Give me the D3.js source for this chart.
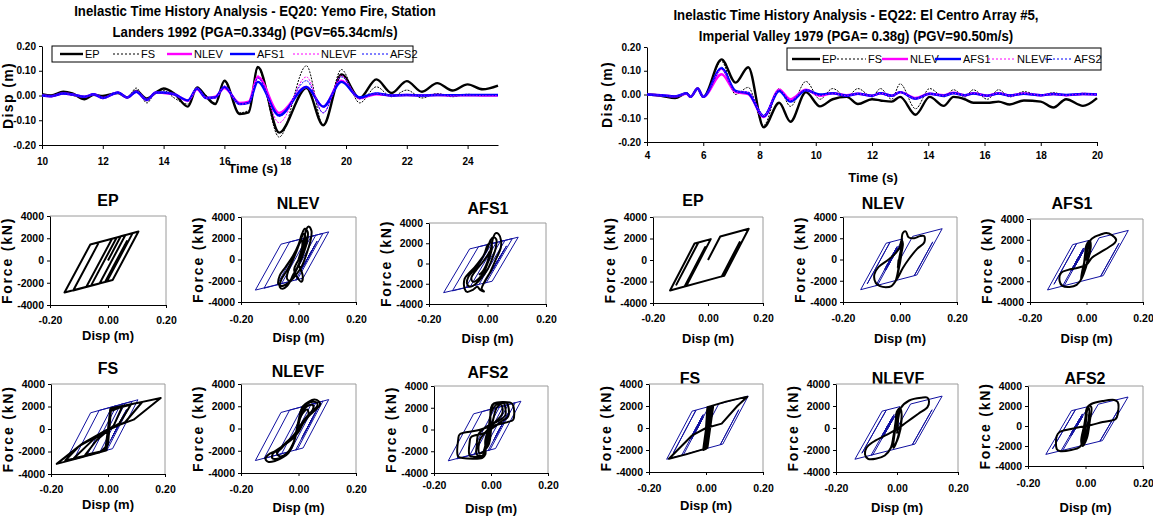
<!DOCTYPE html>
<html>
<head>
<meta charset="utf-8">
<script src="https://cdn.jsdelivr.net/npm/d3@7"></script>
<style>
  body { margin: 0; background: #fff; }
  svg { display: block; }
  text { font-family: 'Liberation Sans Narrow', 'Arial Narrow', 'Liberation Sans', Arial, sans-serif; }
  .wide text, text.wide { font-family: 'Liberation Sans', Arial, sans-serif; }
</style>
</head>
<body>
<svg id="fig" width="1153" height="518"></svg>
<script>
// ---------- series and tick definitions ----------
const seriesNames = ["EP", "FS", "NLEV", "AFS1", "NLEVF", "AFS2"];
const dispTicks = [-0.20, -0.10, 0.00, 0.10, 0.20];
const eq20TimeTicks = [10, 12, 14, 16, 18, 20, 22, 24];
const eq22TimeTicks = [4, 6, 8, 10, 12, 14, 16, 18, 20];
const forceTicks = [-4000, -2000, 0, 2000, 4000];
const loopDispTicks = [-0.20, 0.00, 0.20];

// ---------- EQ20 Yemo Fire (Landers 1992) displacement histories (m) ----------
const eq20Time  = [10.0,10.3,10.7,11.0,11.4,11.7,12.0,12.5,12.8,13.1,13.45,13.75,14.0,14.35,14.8,15.1,15.4,15.7,16.0,16.5,16.8,17.1,17.8,18.7,19.25,19.85,20.45,21.0,21.5,22.0,22.5,23.0,23.5,24.0,24.5,25.0];
const eq20EP    = [0.005,0.000,0.015,0.008,-0.015,0.003,-0.002,0.010,-0.008,0.018,-0.012,0.012,0.028,0.008,-0.045,0.033,-0.005,-0.035,0.060,-0.075,-0.068,0.115,-0.150,0.030,-0.120,0.085,-0.010,0.065,0.010,0.058,0.015,0.050,0.020,0.045,0.025,0.040];
const eq20FS    = [0.000,-0.005,0.008,0.000,-0.008,0.005,-0.008,0.012,-0.010,0.030,-0.030,0.015,0.020,-0.010,-0.035,0.025,0.000,-0.030,0.055,-0.070,-0.060,0.110,-0.168,0.120,-0.120,0.105,-0.030,0.035,-0.005,0.022,-0.010,0.008,-0.005,0.005,0.000,0.003];
const eq20NLEV  = [0.000,-0.003,0.008,0.004,-0.005,0.005,-0.010,0.012,-0.008,0.015,-0.018,0.012,0.010,0.005,-0.020,0.025,-0.010,-0.005,0.030,-0.030,-0.025,0.075,-0.070,0.035,-0.045,0.060,-0.010,0.005,0.000,0.002,0.000,0.002,0.000,0.001,0.000,0.000];
const eq20AFS1  = [0.000,-0.003,0.008,0.004,-0.005,0.005,-0.010,0.012,-0.008,0.015,-0.018,0.012,0.012,0.005,-0.020,0.028,-0.010,-0.008,0.035,-0.035,-0.030,0.055,-0.080,0.035,-0.045,0.055,-0.008,0.008,0.000,0.002,0.000,0.002,0.001,0.002,0.002,0.002];
const eq20NLEVF = [0.000,-0.003,0.008,0.004,-0.005,0.005,-0.010,0.012,-0.008,0.018,-0.020,0.012,0.012,0.005,-0.025,0.030,-0.010,-0.010,0.038,-0.035,-0.030,0.080,-0.110,0.075,-0.070,0.080,-0.015,0.008,0.000,0.002,0.000,0.002,0.000,0.001,0.000,0.000];
const eq20AFS2  = [0.000,-0.003,0.008,0.004,-0.005,0.005,-0.010,0.012,-0.008,0.018,-0.020,0.012,0.012,0.005,-0.022,0.030,-0.010,-0.008,0.038,-0.035,-0.030,0.070,-0.085,0.060,-0.070,0.075,-0.012,0.010,0.000,0.003,0.000,0.002,0.001,0.002,0.002,0.002];

// ---------- EQ22 El Centro Array #5 (Imperial Valley 1979) displacement histories (m) ----------
const eq22Time  = [4.0,4.5,5.0,5.4,5.55,5.8,6.0,6.65,7.15,7.6,8.15,8.7,9.1,9.65,10.15,10.6,11.1,11.5,12.0,12.3,12.7,13.0,13.55,14.05,14.55,14.9,15.3,15.6,16.1,16.5,16.9,17.4,18.0,18.45,18.9,19.5,20.0];
const eq22EP    = [0,-0.005,-0.015,0.005,-0.01,0.025,-0.01,0.148,0.05,0.115,-0.138,-0.035,-0.115,0.01,-0.05,-0.02,-0.01,-0.04,-0.02,-0.025,-0.03,-0.01,-0.085,-0.01,-0.048,-0.01,-0.02,-0.035,-0.035,-0.03,-0.042,-0.025,-0.03,-0.055,-0.02,-0.048,-0.015];
const eq22FS    = [0,-0.003,-0.01,0.005,-0.01,0.025,-0.01,0.14,0.0,0.03,-0.13,0.025,-0.05,0.055,-0.02,0.025,-0.01,0.025,-0.01,0.025,-0.02,0.045,-0.06,0.025,-0.01,0.02,-0.01,0.02,-0.02,0.02,-0.01,0.012,-0.005,0.008,-0.005,0.005,0.0];
const eq22NLEV  = [0,-0.003,-0.008,0.003,-0.01,0.025,-0.01,0.085,0.01,0.002,-0.095,0.02,-0.02,0.02,-0.005,0.005,-0.003,0.003,-0.005,0.005,-0.005,0.01,-0.015,0.003,-0.003,0.008,-0.003,0.005,-0.005,0.005,-0.004,0.004,-0.003,0.002,-0.003,0.002,0];
const eq22AFS1  = [0,-0.003,-0.008,0.005,-0.01,0.025,-0.01,0.11,0.015,0.005,-0.092,0.015,-0.03,0.018,0.0,0.005,-0.005,0.003,-0.005,0.005,-0.005,0.01,-0.018,0.003,-0.005,0.005,-0.003,0.004,-0.005,0.004,-0.004,0.003,-0.003,0.002,-0.002,0.002,0];
const eq22NLEVF = [0,-0.003,-0.008,0.005,-0.01,0.025,-0.01,0.105,0.012,0.01,-0.09,0.02,-0.025,0.02,-0.005,0.005,-0.005,0.003,-0.005,0.005,-0.005,0.01,-0.018,0.003,-0.005,0.005,-0.003,0.005,-0.005,0.005,-0.004,0.004,-0.003,0.002,-0.003,0.002,0];
const eq22AFS2  = [0,-0.003,-0.008,0.005,-0.01,0.025,-0.01,0.115,0.012,0.01,-0.085,0.018,-0.028,0.02,-0.003,0.005,-0.005,0.003,-0.005,0.005,-0.005,0.01,-0.018,0.003,-0.005,0.005,-0.003,0.004,-0.005,0.004,-0.004,0.003,-0.003,0.002,-0.002,0.002,0];

// ---------- force-displacement loops, [disp (m), force (kN)] ----------
const loop20EP = [[0,0],[0.044,2180],[0.06,2285],[-0.029,-2065],[-0.075,-2390],[0.014,1960],[0.105,2600],[0.016,-1750],[-0.15,-2880],[-0.061,1440],[0.03,2075],[-0.059,-2280],[-0.12,-2705],[-0.031,1650],[0.085,2460],[-0.004,-1890],[-0.01,-1935],[0.065,1740],[0.01,-955],[0.058,1400],[0.015,-700],[0.05,1000],[0.02,-470],[0.045,760],[0.025,-220],[0.04,515]];
const loop20FS = [[0,0],[0.008,1800],[0.1,2300],[0.185,2750],[0.09,830],[0.0,0],[-0.09,-1300],[-0.18,-3100],[-0.09,-2500],[-0.005,-1850],[0.0,-500],[0.01,1850],[0.12,2400],[0.06,600],[0.0,-100],[-0.1,-1500],[-0.15,-2800],[-0.06,-2300],[-0.005,-1900],[0.008,1700],[0.08,2150],[0.04,500],[-0.05,-900],[-0.12,-2600],[-0.03,-2100],[0.0,-1400],[0.01,1600],[0.05,2000],[0.02,300],[-0.04,-1000],[-0.08,-2300],[-0.01,-1900],[0.005,900]];
const loop20NLEV = [[0,0],[0.01,900],[0.02,2000],[0.028,2900],[0.035,3100],[0.045,2700],[0.042,1800],[0.03,700],[0.012,-600],[-0.01,-1500],[-0.035,-2200],[-0.06,-2500],[-0.07,-2300],[-0.065,-1500],[-0.045,-700],[-0.02,300],[0.0,1400],[0.012,2400],[0.022,2900],[0.032,2600],[0.03,1700],[0.018,600],[0.0,-600],[-0.02,-1600],[-0.04,-2500],[-0.055,-2750],[-0.065,-2600],[-0.06,-1900],[-0.04,-1000],[-0.02,0],[-0.005,1000],[0.008,1900],[0.018,2400],[0.025,2100],[0.02,1200],[0.01,200],[-0.005,-800],[-0.02,-1500],[-0.03,-2000],[-0.04,-1800],[-0.035,-1000],[-0.02,-100],[-0.005,900],[0.005,1600],[0.012,1800],[0.012,1000],[0.0,0],[-0.015,-1000],[0.01,-2100],[0.015,-1600],[0.0,-500]];
const loop20AFS1 = [[0,0],[0.012,1500],[0.02,2600],[0.028,3000],[0.038,2900],[0.046,2300],[0.045,1500],[0.03,500],[0.01,-800],[-0.01,-1800],[-0.02,-2500],[-0.012,-2750],[-0.025,-2600],[-0.035,-2300],[-0.05,-2600],[-0.07,-2800],[-0.078,-2500],[-0.078,-1500],[-0.065,-1000],[-0.045,-400],[-0.02,500],[0.0,1500],[0.01,2300],[0.02,2600],[0.03,2400],[0.028,1500],[0.015,400],[0.0,-600],[-0.02,-1400],[-0.04,-2000],[-0.06,-2300],[-0.07,-2000],[-0.065,-1300],[-0.045,-600],[-0.025,200],[-0.01,1000],[0.0,1800],[0.012,2100],[0.015,1500],[0.005,400],[-0.01,-700],[-0.03,-1500],[-0.05,-1800],[-0.055,-1400],[-0.04,-700],[-0.02,0],[0.0,800],[0.008,1200],[0.0,200],[-0.02,-900],[-0.03,-1100]];
const loop20NLEVF = [[0,0],[0.005,1200],[0.015,2000],[0.035,2400],[0.055,2600],[0.07,2450],[0.075,2150],[0.06,1700],[0.035,1100],[0.015,400],[0.0,-300],[-0.02,-900],[-0.05,-1500],[-0.08,-2000],[-0.105,-2350],[-0.115,-2700],[-0.105,-3000],[-0.08,-2900],[-0.055,-2600],[-0.035,-2200],[-0.02,-1500],[-0.01,-500],[0.0,700],[0.01,1700],[0.03,2200],[0.05,2400],[0.065,2300],[0.065,2000],[0.045,1500],[0.02,800],[0.0,0],[-0.02,-700],[-0.045,-1300],[-0.07,-1900],[-0.09,-2300],[-0.09,-2700],[-0.07,-2700],[-0.045,-2400],[-0.025,-1800],[-0.012,-900],[0.0,500],[0.01,1500],[0.03,2000],[0.05,2100],[0.05,1700],[0.03,1100],[0.01,400],[-0.01,-400],[-0.035,-1100],[-0.06,-1800],[-0.075,-2200],[-0.065,-2500],[-0.04,-2200],[-0.02,-1400],[-0.005,-200],[0.01,1200],[0.03,1700],[0.035,1300],[0.015,500],[0.0,-200]];
const loop20AFS2 = [[0,0],[0.0,2000],[0.01,2400],[0.07,2450],[0.078,2200],[0.078,900],[0.06,700],[0.0,300],[-0.05,-100],[-0.11,-450],[-0.115,-900],[-0.115,-2500],[-0.1,-2620],[-0.03,-2600],[-0.02,-2300],[-0.02,-1000],[-0.005,500],[0.0,1800],[0.01,2350],[0.055,2450],[0.06,2200],[0.06,1200],[0.04,800],[-0.02,-300],[-0.07,-700],[-0.075,-1200],[-0.075,-2400],[-0.06,-2500],[-0.03,-2450],[-0.025,-2000],[-0.01,-300],[0.0,1500],[0.02,2300],[0.045,2400],[0.05,2000],[0.05,1300],[0.02,700],[-0.02,200],[-0.045,-500],[-0.05,-1500],[-0.05,-2300],[-0.03,-2400],[-0.02,-1800],[0.0,0],[0.02,2000],[0.035,2300],[0.04,1500],[0.0,300],[-0.04,-1000],[-0.04,-2200],[-0.01,-1500],[0.0,0]];

const loop22EP = [[0,0],[0.0445,2180],[0.148,2900],[0.059,-1460],[0.05,-1525],[0.115,1660],[0.05,-1525],[-0.138,-2840],[-0.049,1530],[-0.035,1630],[-0.115,-2290],[-0.035,1630],[0.01,1945],[-0.05,-995],[-0.02,475],[-0.01,965],[-0.04,-505],[-0.02,475],[-0.03,-15],[-0.01,965],[-0.079,-2430],[-0.085,-2470],[-0.01,1205],[-0.048,-657],[-0.01,1205],[-0.035,-20],[-0.03,225],[-0.055,-1000],[-0.02,715],[-0.048,-657],[-0.015,960]];
const loop22FS = [[0,0],[0.005,1900],[0.07,2400],[0.145,2850],[0.11,2000],[0.055,400],[0.0,0],[-0.05,-700],[-0.13,-2800],[-0.07,-2400],[-0.005,-1900],[0.015,1900],[0.02,1500],[0.0,-1900],[-0.01,-2000],[0.01,1800],[0.025,1950],[0.005,-1800],[0.012,1800],[-0.005,-1700],[0.015,1900],[0.0,-1400],[0.01,1600]];
const loop22NLEV = [[0,0],[0.005,1500],[0.01,2500],[0.02,2650],[0.03,2100],[0.05,2000],[0.07,2200],[0.085,2200],[0.085,1600],[0.06,1000],[0.03,0],[0.01,-800],[-0.01,-1800],[-0.03,-2500],[-0.05,-2600],[-0.07,-2500],[-0.085,-2200],[-0.09,-1400],[-0.075,-700],[-0.04,0],[-0.015,600],[0.0,1200],[0.005,1800],[0.01,1500],[0.0,0],[-0.01,-1500],[-0.015,-2000],[-0.005,-1000],[0.005,500],[0.008,1400],[0.0,500],[-0.008,-800],[-0.005,0]];
const loop22AFS1 = [[0,0],[0.005,1500],[0.012,1900],[0.03,2300],[0.05,2500],[0.07,2650],[0.09,2450],[0.105,2000],[0.1,1700],[0.08,1300],[0.05,800],[0.02,300],[0.0,-400],[-0.03,-700],[-0.065,-900],[-0.09,-1200],[-0.095,-2000],[-0.085,-2450],[-0.06,-2550],[-0.035,-2350],[-0.015,-1600],[-0.01,-600],[-0.005,600],[0.0,1500],[0.012,1900],[0.015,1300],[0.005,0],[-0.01,-1300],[-0.02,-1900],[-0.015,-1000],[-0.005,200],[0.005,1400],[0.01,1700],[0.008,600],[-0.005,-800],[-0.015,-1500],[-0.01,-500],[0.0,700]];
const loop22NLEVF = [[0,0],[0.005,1000],[0.012,1800],[0.04,2500],[0.08,2750],[0.1,2750],[0.105,2400],[0.1,1900],[0.07,1300],[0.03,500],[0.0,-100],[-0.04,-700],[-0.08,-1300],[-0.1,-1800],[-0.105,-2400],[-0.095,-2800],[-0.07,-2800],[-0.04,-2500],[-0.02,-1800],[-0.012,-800],[-0.005,500],[0.0,1500],[0.01,1800],[0.015,1200],[0.01,0],[-0.005,-1500],[-0.012,-1800],[-0.01,-600],[0.0,1000],[0.012,1700],[0.015,700],[0.005,-800],[-0.01,-1600],[-0.005,0],[0.005,1300],[0.0,-500]];
const loop22AFS2 = [[0,0],[0.005,1800],[0.02,2200],[0.06,2500],[0.1,2600],[0.112,2400],[0.112,1200],[0.105,700],[0.06,400],[0.02,100],[0.0,0],[-0.05,-300],[-0.09,-600],[-0.1,-1000],[-0.1,-2300],[-0.09,-2500],[-0.05,-2400],[-0.02,-2100],[-0.01,-1500],[0.0,0],[0.005,1500],[0.01,2000],[0.02,1900],[0.015,500],[0.005,-1200],[-0.01,-2000],[-0.015,-1500],[-0.005,0],[0.005,1500],[0.012,1800],[0.01,500],[0.0,-1000],[-0.01,-1800],[-0.005,-500],[0.005,1200]];

// ---------- drawing ----------
const svg = d3.select("#fig");
svg.append("rect").attr("width", 1153).attr("height", 518).attr("fill", "#fff");

const seriesStyle = {
  EP:    { color: "#000000", width: 2.4, dash: null },
  FS:    { color: "#000000", width: 1.0, dash: "2,1.2" },
  NLEV:  { color: "#ff00ff", width: 2.4, dash: null },
  AFS1:  { color: "#0000ff", width: 2.4, dash: null },
  NLEVF: { color: "#ff00ff", width: 1.0, dash: "2,1.2" },
  AFS2:  { color: "#0000ff", width: 1.0, dash: "2,1.2" }
};

function styleAxis(g, size, wide) {
  g.attr("font-family", null).attr("font-size", size).attr("font-weight", "bold");
  if (wide) g.classed("wide", true);
  g.selectAll("path.domain").attr("stroke", "#000").attr("stroke-width", 1);
  g.selectAll(".tick line").attr("stroke", "#000");
  g.selectAll(".tick text").attr("fill", "#000");
}

function drawHistory(cfg) {
  const g = svg.append("g");
  const x = d3.scaleLinear().domain(cfg.domain).range([cfg.x0, cfg.x1]);
  const y = d3.scaleLinear().domain([-0.2, 0.2]).range([cfg.yBot, cfg.yTop]);

  // two-line title, slightly condensed
  cfg.title.forEach((t, i) => {
    g.append("text").attr("transform", `translate(${cfg.titleX},${cfg.titleY[i]}) scale(0.88,1)`)
      .attr("text-anchor", "middle").attr("font-size", 15).attr("font-weight", "bold").text(t);
  });

  // axes
  const ax = g.append("g").attr("transform", `translate(0,${cfg.yBot})`)
    .call(d3.axisBottom(x).tickValues(cfg.ticks).tickSize(4).tickSizeOuter(0)
      .tickPadding(cfg.xPad).tickFormat(d => String(d)));
  styleAxis(ax, 10, true);
  const ay = g.append("g").attr("transform", `translate(${cfg.x0},0)`)
    .call(d3.axisLeft(y).tickValues(dispTicks).tickSize(3).tickSizeOuter(0)
      .tickPadding(3).tickFormat(d => d.toFixed(2)));
  styleAxis(ay, 10, true);

  g.append("text").attr("transform", `translate(${cfg.yLabelX},${(cfg.yTop + cfg.yBot) / 2}) rotate(-90)`)
    .attr("text-anchor", "middle").attr("font-size", 14).attr("font-weight", "bold")
    .attr("letter-spacing", 1.4).text("Disp (m)");
  g.append("text").attr("x", cfg.xLabel[0]).attr("y", cfg.xLabel[1])
    .attr("text-anchor", "middle").attr("font-size", 13).attr("font-weight", "bold").text("Time (s)");

  // series
  const line = d3.line().x(d => x(d[0])).y(d => y(d[1])).curve(d3.curveMonotoneX);
  seriesNames.forEach((name, i) => {
    const st = seriesStyle[name];
    const pts = cfg.time.map((t, k) => [t, cfg.values[i][k]]);
    g.append("path").datum(pts).attr("d", line)
      .attr("fill", "none").attr("stroke", st.color).attr("stroke-width", st.width)
      .attr("stroke-dasharray", st.dash).attr("stroke-linejoin", "round");
  });

  // legend
  const lg = g.append("g");
  lg.append("rect").attr("x", cfg.legend.x).attr("y", cfg.legend.y)
    .attr("width", cfg.legend.w).attr("height", cfg.legend.h)
    .attr("fill", "#fff").attr("stroke", "#000").attr("stroke-width", 1);
  const ly = cfg.legend.y + cfg.legend.h / 2;
  seriesNames.forEach((name, i) => {
    const st = seriesStyle[name];
    const [a, b] = cfg.legend.lines[i];
    lg.append("line").attr("x1", a).attr("x2", b).attr("y1", ly).attr("y2", ly)
      .attr("stroke", st.color).attr("stroke-width", st.width)
      .attr("stroke-dasharray", st.dash ? "2,2" : null);
    lg.append("text").attr("x", b + 2).attr("y", ly + 4).attr("font-size", 11).text(name);
  });
}

function drawLoop(p) {
  const g = svg.append("g");
  const x = d3.scaleLinear().domain([-0.2, 0.2]).range([p.x0, p.x1]);
  const y = d3.scaleLinear().domain([-4000, 4000]).range([p.yBot, p.yTop]);

  g.append("text").attr("x", p.title[0]).attr("y", p.title[1] + 6)
    .attr("text-anchor", "middle").attr("font-size", 16).attr("font-weight", "bold").text(p.name);

  // plot-area frame (grey top and right edges)
  g.append("path").attr("d", `M${p.x0},${p.yTop}H${p.x1}V${p.yBot}`)
    .attr("fill", "none").attr("stroke", "#9a9a9a").attr("stroke-width", 1);

  const lin = d3.line().x(d => x(d[0])).y(d => y(d[1]));
  if (p.ref) {
    g.append("path").datum(p.ref).attr("d", lin)
      .attr("fill", "none").attr("stroke", "#1010a0").attr("stroke-width", 1)
      .attr("stroke-linejoin", "round");
  }
  const curved = d3.line().x(d => x(d[0])).y(d => y(d[1]))
    .curve(p.smooth ? d3.curveCatmullRom.alpha(0.5) : d3.curveLinear);
  g.append("path").datum(p.data).attr("d", curved)
    .attr("fill", "none").attr("stroke", "#000").attr("stroke-width", 2)
    .attr("stroke-linejoin", "round");

  const ax = g.append("g").attr("transform", `translate(0,${p.yBot})`)
    .call(d3.axisBottom(x).tickValues(loopDispTicks).tickSize(3).tickSizeOuter(0)
      .tickPadding(p.xPad).tickFormat(d => d.toFixed(2)));
  styleAxis(ax, 10.5, false);
  const ay = g.append("g").attr("transform", `translate(${p.x0},0)`)
    .call(d3.axisLeft(y).tickValues(forceTicks).tickSize(3).tickSizeOuter(0)
      .tickPadding(3).tickFormat(d => String(d)));
  styleAxis(ay, 10.5, false);

  g.append("text").attr("transform", `translate(${p.x0 - 38},${(p.yTop + p.yBot) / 2}) rotate(-90)`)
    .attr("text-anchor", "middle").attr("font-size", 14).attr("font-weight", "bold")
    .attr("letter-spacing", 1.8).text("Force (kN)");
  g.append("text").attr("x", (p.x0 + p.x1) / 2).attr("y", p.dispY + 4)
    .attr("text-anchor", "middle").attr("font-size", 13).attr("font-weight", "bold").text("Disp (m)");
}

drawHistory({
  title: ["Inelastic Time History Analysis - EQ20: Yemo Fire, Station",
          "Landers 1992 (PGA=0.334g) (PGV=65.34cm/s)"],
  titleX: 255, titleY: [16, 37],
  domain: [10, 25], ticks: eq20TimeTicks,
  x0: 42, x1: 498, yTop: 46, yBot: 145, xPad: 9,
  yLabelX: 13, xLabel: [253, 173],
  time: eq20Time,
  values: [eq20EP, eq20FS, eq20NLEV, eq20AFS1, eq20NLEVF, eq20AFS2],
  legend: { x: 52, y: 46, w: 361, h: 16,
            lines: [[60, 83], [113, 139], [167, 192], [230, 255], [293, 319], [362, 388]] }
});

drawHistory({
  title: ["Inelastic Time History Analysis - EQ22: El Centro Array #5,",
          "Imperial Valley 1979 (PGA= 0.38g) (PGV=90.50m/s)"],
  titleX: 856, titleY: [20, 41],
  domain: [4, 20], ticks: eq22TimeTicks,
  x0: 647, x1: 1097, yTop: 47, yBot: 142, xPad: 6,
  yLabelX: 612, xLabel: [873, 182],
  time: eq22Time,
  values: [eq22EP, eq22FS, eq22NLEV, eq22AFS1, eq22NLEVF, eq22AFS2],
  legend: { x: 787, y: 48, w: 314, h: 22,
            lines: [[792, 820], [837, 866], [882, 908], [935, 961], [988, 1015], [1045, 1072]] }
});

const loopPanels = [
  { name: "EP",    x0: 50,   x1: 166,  yTop: 216, yBot: 305, title: [108, 200],  dispY: 336, xPad: 9,  data: loop20EP,    ref: null,     smooth: false },
  { name: "NLEV",  x0: 241,  x1: 356,  yTop: 217, yBot: 302, title: [298, 203],  dispY: 338, xPad: 11, data: loop20NLEV,  ref: loop20EP, smooth: true },
  { name: "AFS1",  x0: 429,  x1: 546,  yTop: 223, yBot: 304, title: [488, 208],  dispY: 339, xPad: 9,  data: loop20AFS1,  ref: loop20EP, smooth: true },
  { name: "FS",    x0: 51,   x1: 165,  yTop: 384, yBot: 474, title: [108, 368],  dispY: 505, xPad: 9,  data: loop20FS,    ref: loop20EP, smooth: false },
  { name: "NLEVF", x0: 241,  x1: 356,  yTop: 384, yBot: 473, title: [298, 371],  dispY: 508, xPad: 10, data: loop20NLEVF, ref: loop20EP, smooth: true },
  { name: "AFS2",  x0: 434,  x1: 548,  yTop: 386, yBot: 473, title: [488, 372],  dispY: 509, xPad: 6,  data: loop20AFS2,  ref: loop20EP, smooth: true },
  { name: "EP",    x0: 653,  x1: 763,  yTop: 217, yBot: 303, title: [693, 200],  dispY: 339, xPad: 9,  data: loop22EP,    ref: null,     smooth: false },
  { name: "NLEV",  x0: 843,  x1: 957,  yTop: 217, yBot: 302, title: [883, 203],  dispY: 339, xPad: 10, data: loop22NLEV,  ref: loop22EP, smooth: true },
  { name: "AFS1",  x0: 1030, x1: 1143, yTop: 219, yBot: 302, title: [1072, 203], dispY: 339, xPad: 10, data: loop22AFS1,  ref: loop22EP, smooth: true },
  { name: "FS",    x0: 649,  x1: 763,  yTop: 384, yBot: 472, title: [690, 378],  dispY: 506, xPad: 10, data: loop22FS,    ref: loop22EP, smooth: false },
  { name: "NLEVF", x0: 836,  x1: 958,  yTop: 384, yBot: 472, title: [898, 378],  dispY: 508, xPad: 10, data: loop22NLEVF, ref: loop22EP, smooth: true },
  { name: "AFS2",  x0: 1028, x1: 1143, yTop: 386, yBot: 466, title: [1085, 378], dispY: 508, xPad: 11, data: loop22AFS2,  ref: loop22EP, smooth: true }
];
loopPanels.forEach(drawLoop);
</script>
</body>
</html>
